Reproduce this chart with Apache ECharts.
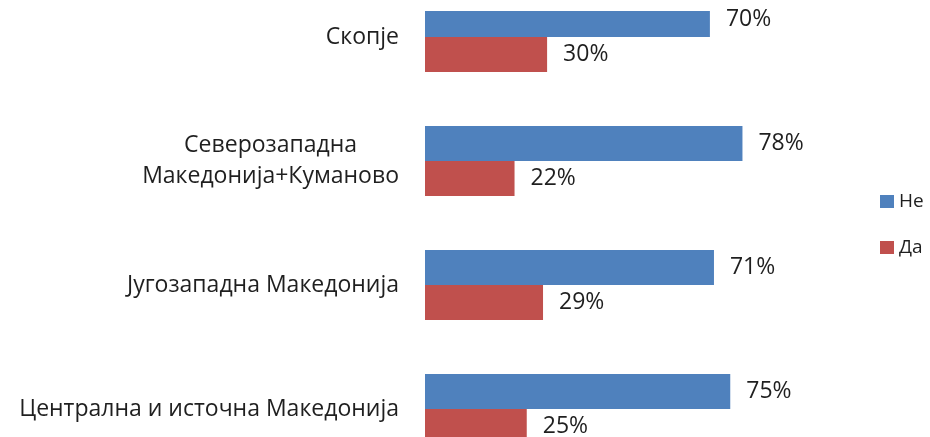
<!DOCTYPE html>
<html lang="mk">
<head>
    <meta charset="UTF-8">
    <title>Не / Да по региони</title>
    <script src="https://cdn.jsdelivr.net/npm/echarts@6/dist/echarts.min.js"></script>
</head>
<body style="margin:0;background:#fff">
<div id="main" style="width:930px;height:437px;"></div>
<script>
    // региони, одозгора надолу
    const regions = [
        'Скопје',
        'Северозападна\nМакедонија+Куманово',
        'Југозападна Македонија',
        'Централна и источна Македонија'
    ];
    const seriesNames = ['Не', 'Да'];
    const neValues = [70, 78, 71, 75];
    const daValues = [30, 22, 29, 25];

    const textColor = '#1f1f1f';
    const font = '"Open Sans", sans-serif';

    // multi-line labels: lines centred on each other, block right-aligned to axis
    function regionLabel(value) {
        return value.split('\n').map(function (line) {
            return '{c|' + line + '}';
        }).join('\n');
    }

    const barLabel = {
        show: true,
        position: 'right',
        distance: 16,
        formatter: '{c}%',
        color: textColor,
        fontSize: 23,
        fontFamily: font
    };

    const myChart = echarts.init(document.getElementById('main'));
    const option = {
        animation: false,
        backgroundColor: '#ffffff',
        legend: {
            orient: 'vertical',
            left: 875,
            top: 187,
            itemWidth: 14,
            itemHeight: 13,
            itemGap: 27,
            icon: 'rect',
            data: seriesNames,
            textStyle: {color: textColor, fontSize: 19, fontFamily: font}
        },
        grid: {
            left: 425,
            right: 98,
            top: -25,
            bottom: -34,
            outerBoundsMode: 'none'
        },
        // the source plot area cuts the top bar off at y = 11
        graphic: [{
            type: 'rect',
            z: 10,
            shape: {x: 420, y: 0, width: 300, height: 11},
            style: {fill: '#ffffff'}
        }],
        xAxis: {
            type: 'value',
            min: 0,
            max: 100,
            show: false
        },
        yAxis: {
            type: 'category',
            inverse: true,
            data: regions,
            axisLine: {show: false},
            axisTick: {show: false},
            axisLabel: {
                margin: 26,
                color: textColor,
                fontSize: 23,
                lineHeight: 31,
                fontFamily: font,
                align: 'right',
                formatter: regionLabel,
                rich: {
                    c: {
                        align: 'center',
                        color: textColor,
                        fontSize: 23,
                        lineHeight: 31,
                        fontFamily: font
                    }
                }
            }
        },
        series: [{
            name: seriesNames[0],
            type: 'bar',
            data: neValues,
            barWidth: 35,
            barGap: '0%',
            itemStyle: {color: '#4f81bd'},
            label: barLabel
        }, {
            name: seriesNames[1],
            type: 'bar',
            data: daValues,
            barWidth: 35,
            barGap: '0%',
            itemStyle: {color: '#c0504d'},
            label: barLabel
        }]
    };
    myChart.setOption(option);
</script>
</body>
</html>
